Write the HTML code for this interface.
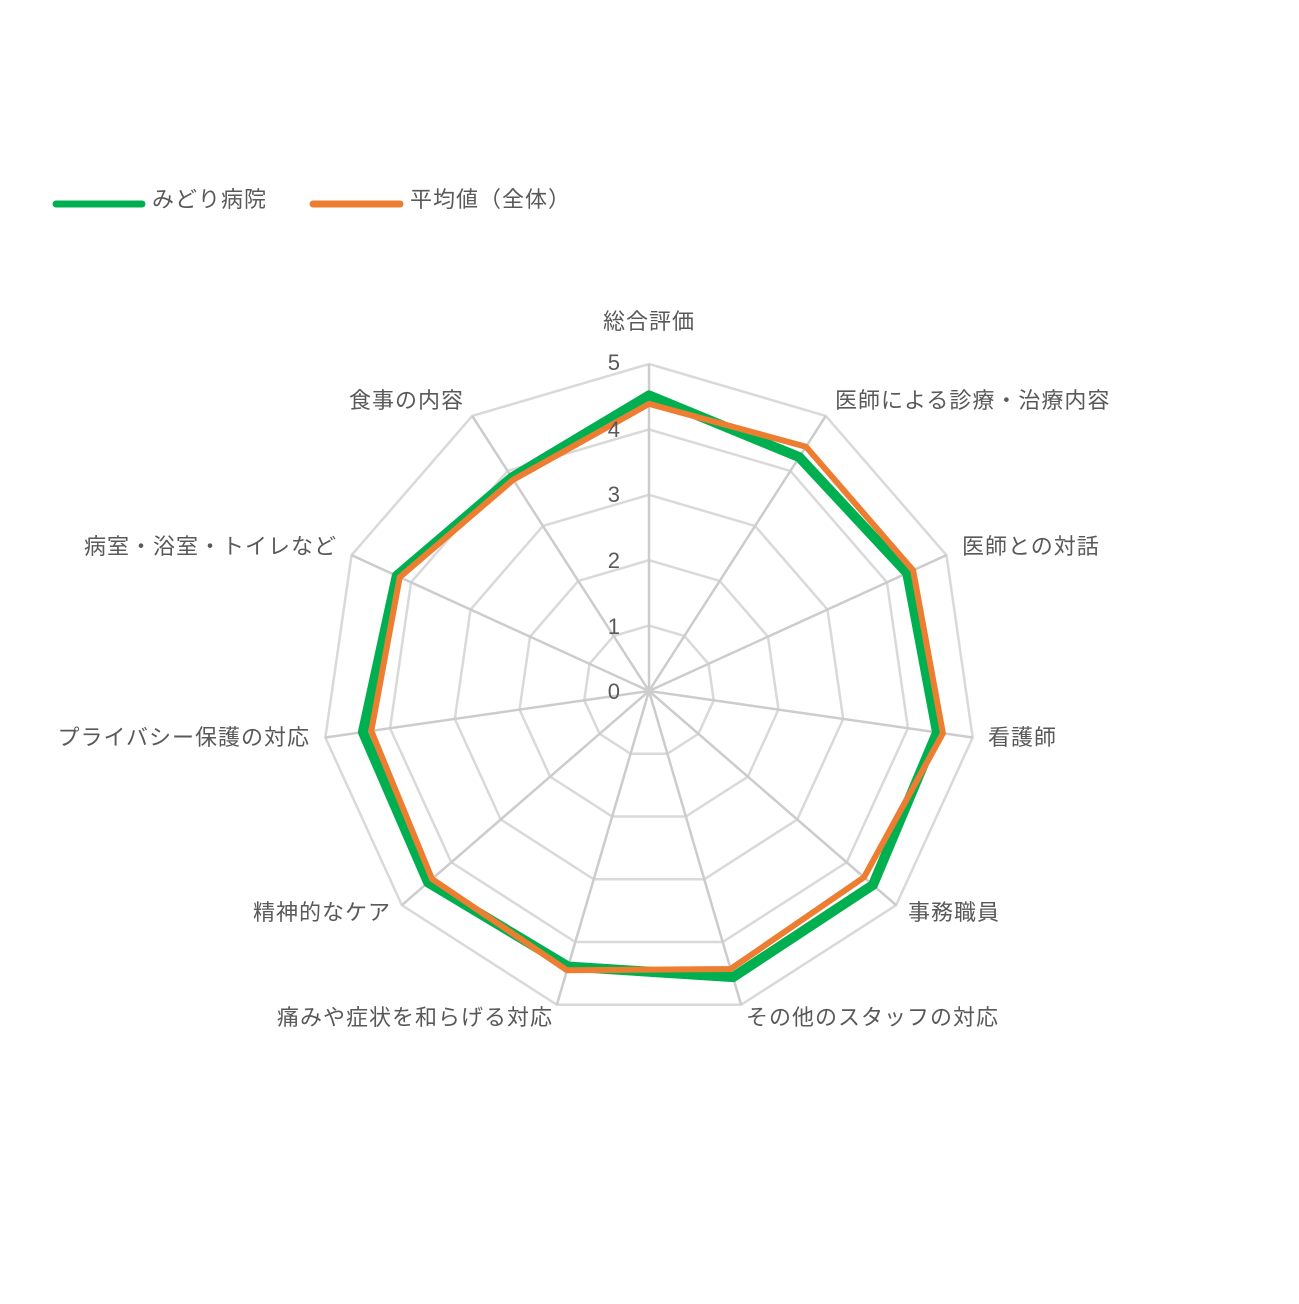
<!DOCTYPE html>
<html><head><meta charset="utf-8"><style>
html,body{margin:0;padding:0;background:#fff;}
svg text{font-family:"Liberation Sans","Noto Sans CJK JP",sans-serif;fill:#595959;font-size:22px;letter-spacing:1px;}
</style></head><body>
<svg id="s" width="1299" height="1299" viewBox="0 0 1299 1299" xmlns="http://www.w3.org/2000/svg">
<rect width="1299" height="1299" fill="#fff"/>
<g id="grid"></g>
<g id="data"></g>
<line x1="56" y1="204" x2="142" y2="204" stroke="#00b050" stroke-width="7" stroke-linecap="round"/>
<text x="152" y="207">みどり病院</text>
<line x1="313" y1="204" x2="400" y2="204" stroke="#ed7d31" stroke-width="7" stroke-linecap="round"/>
<text x="410" y="207">平均値（全体）</text>
<g text-anchor="end">
<text x="621" y="370">5</text><text x="621" y="437">4</text><text x="621" y="502">3</text><text x="621" y="568">2</text><text x="621" y="634">1</text><text x="621" y="699">0</text>
</g>
<text x="649" y="329" text-anchor="middle">総合評価</text>
<text x="835" y="408">医師による診療・治療内容</text>
<text x="962" y="554">医師との対話</text>
<text x="988" y="745">看護師</text>
<text x="908" y="920">事務職員</text>
<text x="746" y="1025">その他のスタッフの対応</text>
<text x="553" y="1025" text-anchor="end">痛みや症状を和らげる対応</text>
<text x="391" y="920" text-anchor="end">精神的なケア</text>
<text x="310" y="745" text-anchor="end">プライバシー保護の対応</text>
<text x="337" y="554" text-anchor="end">病室・浴室・トイレなど</text>
<text x="464" y="408" text-anchor="end">食事の内容</text>
</svg>
<script>
var cx=649,cy=691,R=65.4,n=11,ns="http://www.w3.org/2000/svg";
function pt(i,v){var a=i*2*Math.PI/n;return [cx+v*R*Math.sin(a),cy-v*R*Math.cos(a)];}
function poly(vals,attrs,parent){var p=document.createElementNS(ns,"polygon");p.setAttribute("points",vals.map(function(v,i){return pt(i,v).join(",");}).join(" "));for(var k in attrs)p.setAttribute(k,attrs[k]);parent.appendChild(p);}
var g=document.getElementById("grid"),d=document.getElementById("data");
for(var r=1;r<=5;r++){var a=[];for(var i=0;i<n;i++)a.push(r);poly(a,{fill:"none",stroke:"#d9d9d9","stroke-width":"2.5"},g);}
for(var i=0;i<n;i++){var e=pt(i,5),l=document.createElementNS(ns,"line");l.setAttribute("x1",cx);l.setAttribute("y1",cy);l.setAttribute("x2",e[0]);l.setAttribute("y2",e[1]);l.setAttribute("stroke","#cccccc");l.setAttribute("stroke-width","2.5");g.appendChild(l);}
poly([4.52,4.25,4.34,4.45,4.53,4.56,4.39,4.47,4.42,4.24,3.88],{fill:"none",stroke:"#00b050","stroke-width":"10","stroke-linejoin":"round"},d);
poly([4.39,4.44,4.44,4.54,4.35,4.43,4.45,4.39,4.29,4.19,3.84],{fill:"none",stroke:"#ed7d31","stroke-width":"6","stroke-linejoin":"round"},d);
</script>
</body></html>
